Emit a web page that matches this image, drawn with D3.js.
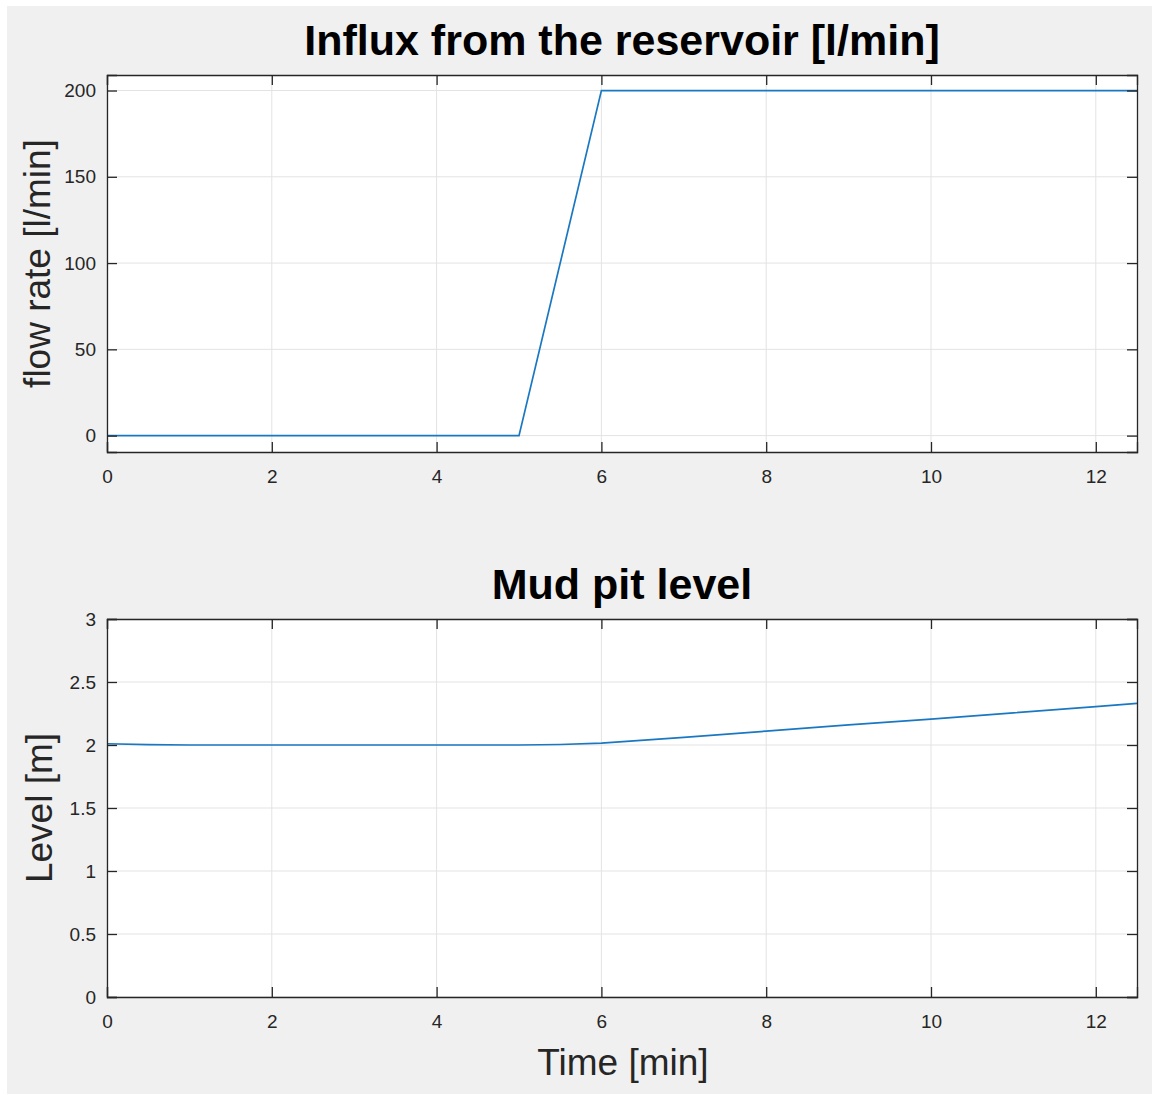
<!DOCTYPE html>
<html>
<head>
<meta charset="utf-8">
<script src="https://cdn.jsdelivr.net/npm/d3@7/dist/d3.min.js"></script>
<style>
  html, body { margin: 0; padding: 0; background: #ffffff; }
  svg { display: block; }
  text { font-family: "Liberation Sans", Arial, Helvetica, sans-serif; }
</style>
</head>
<body>
<svg id="fig" width="1152" height="1095"></svg>
<script>
// Time axis ticks shared by both panels [min]
const timeTicks = [0, 2, 4, 6, 8, 10, 12];

// Influx from the reservoir: time [min] and flow rate [l/min]
const influxTime = [0, 5, 6, 12.5];
const influxRate = [0, 0, 200, 200];
const influxTicks = [0, 50, 100, 150, 200];

// Mud pit level: time [min] and level [m]
const levelTime  = [0, 0.5, 1, 2, 3, 4, 5, 5.5, 6, 7, 8, 9, 10, 11, 12, 12.5];
const levelValue = [2.01, 2.003, 2.0, 2.0, 2.0, 2.0, 2.0, 2.004, 2.015, 2.06, 2.11, 2.16, 2.205, 2.255, 2.305, 2.33];
const levelTicks = [0, 0.5, 1, 1.5, 2, 2.5, 3];
const levelTickLabels = ["0", "0.5", "1", "1.5", "2", "2.5", "3"];

const svg = d3.select("#fig");
svg.append("rect").attr("x", 7).attr("y", 6).attr("width", 1145).attr("height", 1088).attr("fill", "#f0f0f0");

const axisColor = "#262626";
const gridColor = "#e3e3e3";
const lineColor = "#1a78c2";

function panel(opts) {
  const { left, right, top, bottom, xDomain, yDomain, xs, ys, yTicks, yFmt, title, titleY, ylabel, ylabelX } = opts;
  const x = d3.scaleLinear().domain(xDomain).range([left, right]);
  const y = d3.scaleLinear().domain(yDomain).range([bottom, top]);
  const g = svg.append("g");

  g.append("rect").attr("x", left).attr("y", top).attr("width", right - left).attr("height", bottom - top).attr("fill", "#ffffff");

  // grid
  g.append("g").selectAll("line").data(timeTicks).join("line")
    .attr("x1", d => x(d)).attr("x2", d => x(d)).attr("y1", top).attr("y2", bottom)
    .attr("stroke", gridColor).attr("stroke-width", 1);
  g.append("g").selectAll("line").data(yTicks).join("line")
    .attr("x1", left).attr("x2", right).attr("y1", d => y(d)).attr("y2", d => y(d))
    .attr("stroke", gridColor).attr("stroke-width", 1);

  // data line
  const pts = xs.map((t, i) => [t, ys[i]]);
  g.append("path").datum(pts)
    .attr("d", d3.line().x(d => x(d[0])).y(d => y(d[1])))
    .attr("fill", "none").attr("stroke", lineColor).attr("stroke-width", 1.7);

  // axes (ticks inward, box on)
  const tk = 10;
  const bottomAxis = d3.axisBottom(x).tickValues(timeTicks).tickSize(-tk).tickPadding(18).tickFormat(d3.format("d"));
  const topAxis = d3.axisTop(x).tickValues(timeTicks).tickSize(-tk).tickFormat("");
  const leftAxis = d3.axisLeft(y).tickValues(yTicks).tickSize(-tk).tickPadding(11).tickFormat(yFmt);
  const rightAxis = d3.axisRight(y).tickValues(yTicks).tickSize(-tk).tickFormat("");

  const styleAxis = sel => {
    sel.select(".domain").attr("stroke", axisColor).attr("stroke-width", 1.3);
    sel.selectAll(".tick line").attr("stroke", axisColor).attr("stroke-width", 1.3);
    sel.selectAll(".tick text").attr("fill", axisColor).style("font-size", "19px")
      .style("font-family", "'Liberation Sans', Arial, sans-serif");
  };
  g.append("g").attr("transform", `translate(0,${bottom})`).call(bottomAxis).call(styleAxis);
  g.append("g").attr("transform", `translate(0,${top})`).call(topAxis).call(styleAxis);
  g.append("g").attr("transform", `translate(${left},0)`).call(leftAxis).call(styleAxis);
  g.append("g").attr("transform", `translate(${right},0)`).call(rightAxis).call(styleAxis);

  // title
  g.append("text").attr("x", (left + right) / 2).attr("y", titleY)
    .attr("text-anchor", "middle").attr("font-size", 43).attr("font-weight", "bold")
    .attr("fill", "#000000").text(title);

  // y label
  g.append("text")
    .attr("transform", `translate(${ylabelX},${(top + bottom) / 2}) rotate(-90)`)
    .attr("text-anchor", "middle").attr("font-size", 37).attr("fill", axisColor).text(ylabel);

  return { x, y };
}

panel({
  left: 107, right: 1137, top: 75, bottom: 452,
  xDomain: [0, 12.5], yDomain: [-9.5, 209],
  xs: influxTime, ys: influxRate, yTicks: influxTicks, yFmt: d3.format("d"),
  title: "Influx from the reservoir [l/min]", titleY: 55,
  ylabel: "flow rate [l/min]", ylabelX: 50
});

panel({
  left: 107, right: 1137, top: 619, bottom: 997,
  xDomain: [0, 12.5], yDomain: [0, 3],
  xs: levelTime, ys: levelValue, yTicks: levelTicks, yFmt: (d, i) => levelTickLabels[i],
  title: "Mud pit level", titleY: 599,
  ylabel: "Level [m]", ylabelX: 52
});

svg.append("text").attr("x", 623).attr("y", 1075).attr("text-anchor", "middle")
  .attr("font-size", 37).attr("fill", axisColor).text("Time [min]");
</script>
</body>
</html>
